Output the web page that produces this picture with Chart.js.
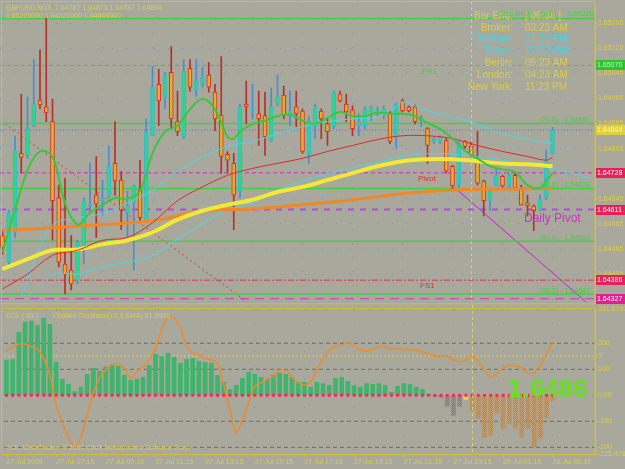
<!DOCTYPE html>
<html>
<head>
<meta charset="utf-8">
<script src="https://cdn.jsdelivr.net/npm/chart.js@4.4.1/dist/chart.umd.min.js"></script>
<style>
html, body { margin: 0; padding: 0; background: #a8a89c; }
#wrap { position: relative; width: 625px; height: 469px; overflow: hidden; }
#main { position: absolute; left: 0; top: 0; }
#sub { position: absolute; left: 0; top: 300px; }
</style>
</head>
<body>
<div id="wrap">
  <canvas id="main" width="625" height="307"></canvas>
  <canvas id="sub" width="625" height="169"></canvas>
</div>
<script>
// GBPUSD M15, 27 Jul 2009 05:15 .. 28 Jul 03:15 (bar index 0..88)
const opens = [1.64528,1.64443,1.64538,1.64790,1.64783,1.64878,1.64960,1.64938,1.64891,1.64648,
  1.64437,1.64418,1.64386,1.64490,1.64623,1.64657,1.64639,1.64654,1.64758,1.64705,
  1.64601,1.64632,1.64673,1.64575,1.64846,1.65010,1.64969,1.65048,1.64891,1.64843,
  1.65061,1.64988,1.65010,1.65039,1.64985,1.64910,1.64787,1.64758,1.64670,1.64947,
  1.64928,1.64916,1.64910,1.64831,1.64947,1.64976,1.64916,1.64938,1.64925,1.64783,
  1.64875,1.64925,1.64884,1.64875,1.64979,1.64947,1.64928,1.64878,1.64875,1.64916,
  1.64925,1.64916,1.64919,1.64843,1.64957,1.64938,1.64938,1.64894,1.64869,1.64828,
  1.64828,1.64831,1.64749,1.64689,1.64828,1.64812,1.64768,1.64702,1.64639,1.64686,
  1.64717,1.64686,1.64720,1.64680,1.64632,1.64623,1.64610,1.64648,1.64787];
const highs = [1.64544,1.64610,1.64846,1.64979,1.64969,1.65089,1.65120,1.65221,1.64963,1.64689,
  1.64711,1.64528,1.64513,1.64648,1.64758,1.64780,1.64705,1.64815,1.64891,1.64733,
  1.64670,1.64689,1.64768,1.64900,1.65067,1.65058,1.65048,1.65130,1.64988,1.65089,
  1.65089,1.65089,1.65064,1.65080,1.65010,1.65098,1.64796,1.64790,1.64947,1.65020,
  1.65010,1.64988,1.64985,1.64998,1.65039,1.65004,1.64988,1.64988,1.64932,1.64906,
  1.64947,1.64932,1.64900,1.64988,1.64988,1.64979,1.64941,1.64916,1.64938,1.64941,
  1.64938,1.64941,1.64925,1.64950,1.64963,1.64941,1.64944,1.64910,1.64872,1.64843,
  1.64846,1.64837,1.64752,1.64828,1.64831,1.64831,1.64859,1.64705,1.64673,1.64743,
  1.64720,1.64727,1.64727,1.64689,1.64657,1.64626,1.64657,1.64799,1.64873];
const lows = [1.64468,1.64434,1.64522,1.64727,1.64774,1.64875,1.64932,1.64891,1.64513,1.64428,
  1.64342,1.64355,1.64374,1.64437,1.64601,1.64522,1.64595,1.64648,1.64657,1.64547,
  1.64522,1.64418,1.64575,1.64575,1.64846,1.64878,1.64932,1.64869,1.64846,1.64837,
  1.64988,1.64972,1.65001,1.64985,1.64862,1.64727,1.64727,1.64547,1.64648,1.64884,
  1.64900,1.64815,1.64783,1.64828,1.64941,1.64900,1.64878,1.64875,1.64790,1.64758,
  1.64837,1.64837,1.64815,1.64869,1.64954,1.64891,1.64846,1.64846,1.64869,1.64894,
  1.64910,1.64900,1.64821,1.64806,1.64922,1.64922,1.64884,1.64875,1.64758,1.64821,
  1.64821,1.64727,1.64673,1.64680,1.64806,1.64780,1.64689,1.64591,1.64607,1.64686,
  1.64680,1.64680,1.64673,1.64626,1.64591,1.64544,1.64607,1.64642,1.64787];
const closes = [1.64490,1.64601,1.64799,1.64777,1.64869,1.64947,1.64944,1.64919,1.64639,1.64443,
  1.64405,1.64374,1.64506,1.64639,1.64629,1.64629,1.64648,1.64749,1.64702,1.64610,
  1.64623,1.64686,1.64585,1.64859,1.65001,1.64957,1.65039,1.64900,1.64859,1.65051,
  1.65001,1.65020,1.65032,1.65001,1.64900,1.64780,1.64768,1.64657,1.64938,1.64938,
  1.64935,1.64900,1.64843,1.64938,1.64969,1.64910,1.64925,1.64916,1.64796,1.64891,
  1.64938,1.64900,1.64859,1.64985,1.64957,1.64922,1.64869,1.64891,1.64932,1.64938,
  1.64928,1.64932,1.64828,1.64947,1.64925,1.64925,1.64891,1.64900,1.64815,1.64837,
  1.64843,1.64733,1.64686,1.64821,1.64812,1.64783,1.64695,1.64639,1.64673,1.64720,
  1.64686,1.64720,1.64680,1.64626,1.64623,1.64607,1.64642,1.64768,1.64864];

// moving averages, read at sampled bars
const greenBars = [0,2,4,6,8,10,12,14,16,18,20,22,24,26,28,30,32,34,36,37,38,40,42,44,46,48,50,52,54,56,58,60,62,64,66,68,70,72,74,76,78,80,82,84,86,87,88];
const greenMA = [1.64475,1.64610,1.64736,1.64796,1.64780,1.64632,1.64563,1.64601,1.64626,1.64648,1.64645,1.64670,1.64790,1.64859,1.64878,1.64931,1.64963,1.64931,1.64843,1.64837,1.64859,1.64884,1.64894,1.64909,1.64913,1.64894,1.64884,1.64903,1.64922,1.64909,1.64909,1.64919,1.64916,1.64916,1.64909,1.64887,1.64868,1.64837,1.64799,1.64774,1.64749,1.64739,1.64730,1.64689,1.64679,1.64702,1.64727];
const slowBars = [0,4,8,12,16,20,24,28,32,36,40,44,48,52,56,60,64,68,72,76,80,84,87,88];
const redMA = [1.64358,1.64405,1.64465,1.64481,1.64513,1.64522,1.64569,1.64639,1.64683,1.64720,1.64742,1.64758,1.64774,1.64796,1.64815,1.64834,1.64846,1.64846,1.64837,1.64815,1.64796,1.64780,1.64768,1.64777];
const yellowBars = [0,4,8,12,16,20,24,28,32,36,40,44,48,52,56,60,64,68,72,76,80,84,88];
const yellowMA = [1.64421,1.64453,1.64481,1.64484,1.64500,1.64513,1.64538,1.64579,1.64607,1.64626,1.64642,1.64667,1.64683,1.64705,1.64727,1.64749,1.64765,1.64771,1.64771,1.64765,1.64758,1.64755,1.64749];
const orangeBars = [0,8,16,24,32,40,48,56,64,72,80,88];
const orangeMA = [1.64544,1.64553,1.64563,1.64575,1.64607,1.64613,1.64626,1.64642,1.64661,1.64673,1.64676,1.64679];
const upperBandBars = [3,5,6,8,12,16,20,24,28,32,36,40,44,48,52,56,60,63,64,66,68,72,76,80,84,88];
const upperBand = [1.64333,1.64443,1.64490,1.64563,1.64585,1.64598,1.64632,1.64673,1.64733,1.64777,1.64812,1.64828,1.64853,1.64875,1.64891,1.64900,1.64906,1.64938,1.64954,1.64941,1.64925,1.64906,1.64881,1.64853,1.64834,1.64821];
const lowerBandBars = [4,8,12,16,20,24,28,32,36,40,44,48,52,56,60,64,68,72,76,80,84,88,94];
const lowerBand = [1.64333,1.64405,1.64405,1.64428,1.64443,1.64465,1.64516,1.64566,1.64610,1.64632,1.64673,1.64702,1.64724,1.64743,1.64761,1.64780,1.64790,1.64787,1.64780,1.64768,1.64755,1.64743,1.64711];

// lower panel: CCI(63) histogram and Chaikin oscillator
const cci = [135,138,242,281,285,269,296,273,127,62,42,15,31,81,104,92,108,115,112,77,
  58,62,69,115,158,150,162,146,123,138,142,131,127,123,77,50,23,38,65,88,
  81,69,62,77,85,81,69,50,50,31,50,45,38,65,69,54,38,31,45,42,
  45,38,12,35,45,42,31,23,5,-4,-8,-42,-77,-42,-15,-58,-88,-162,-154,-69,
  -127,-108,-127,-162,-127,-200,-165,-85,-20];
const chaikin = [35,52,70,70,55,41,-12,-111,-286,-385,-478,-531,-472,-344,-216,-128,-82,-47,-47,-70,
  -128,-93,-64,-23,47,152,233,222,163,64,17,6,-12,-23,-41,-169,-315,-449,-373,-274,
  -175,-157,-134,-117,-82,-87,-122,-157,-169,-152,-82,-12,35,58,64,76,58,35,29,41,
  52,52,41,41,41,35,35,23,12,0,0,0,-23,-35,-23,6,-35,-82,-122,-105,
  -70,-52,-58,-70,-99,-99,-52,12,81.5986];

const tickBars = [0,8,16,24,32,40,48,56,64,72,80,88];
const timeLabels = ['27 Jul 2009','27 Jul 07:15','27 Jul 09:15','27 Jul 11:15','27 Jul 13:15','27 Jul 15:15',
  '27 Jul 17:15','27 Jul 19:15','27 Jul 21:15','27 Jul 23:15','28 Jul 01:15','28 Jul 03:15'];
const priceTicks = [1.65205,1.65125,1.65045,1.64965,1.64885,1.64805,1.64725,1.64645,1.64565,1.64485,1.64405];
const cciTicks = [331.8797,200,100,0,-100,-200,-225.476];
const cciTickLabels = ['331.8797','200','100','0.00','-100','-200','-225.476'];
const cciLevels = [200,100,-100,-200];

// levels
const dailyHigh = 1.65220, fr1 = 1.65070, bid = 1.64864, pivot = 1.64728, dailyPivot = 1.64611, fs1 = 1.64386, lowLine = 1.64327;
const fibLevels = [1.64885,1.64678,1.64510,1.64342];
const fibNames = ['(75.4) - 1.64885','(61.8) - 1.64678','(50.0) - 1.64510','(38.2) - 1.64342'];
const sessionBar = 75;
const infoLabels = ['Bar End:','Broker:','* Sydney:','* Tokyo:','Berlin:','London:','New York:'];
const infoValues = ['[ 06:36 ]','03:23 AM','01:23 PM','12:23 PM','05:23 AM','04:23 AM','11:23 PM'];

const xMin = -0.4, xMax = 94.8;
const cciMin = -225.476, cciMax = 331.8797, chMin = -571, chMax = 274;
const FONT = '"Liberation Sans", Arial, sans-serif';
const YEL = '#ddcc48', FRAME = '#d4bf3c', GRID = 'rgba(70,120,210,0.45)';

function checker(a, b) {
  const c = document.createElement('canvas');
  c.width = 2; c.height = 2;
  const g = c.getContext('2d');
  g.fillStyle = a; g.fillRect(0, 0, 2, 2);
  g.fillStyle = b; g.fillRect(0, 0, 1, 1); g.fillRect(1, 1, 1, 1);
  return g.createPattern(c, 'repeat');
}
const bearFill = checker('#ee8a30', '#f2c040');
const negFill = checker('#ee6a30', '#c8a070');
const grayFill = checker('#7c7c78', '#989890');

function txt(ctx, s, x, y, color, size, align, weight) {
  ctx.save();
  ctx.font = (weight || 'normal') + ' ' + size + 'px ' + FONT;
  ctx.fillStyle = color;
  ctx.textAlign = align || 'left';
  ctx.textBaseline = 'middle';
  ctx.fillText(s, x, y);
  ctx.restore();
}

function hline(v, color, dash, width, axis) {
  return { type: 'line', data: [{ x: xMin, y: v }, { x: xMax, y: v }], borderColor: color,
    borderDash: dash || [], borderWidth: width || 1, pointRadius: 0, order: 4, yAxisID: axis || 'y' };
}
function maLine(bars, vals, color, width) {
  return { type: 'line', data: bars.map((b, i) => ({ x: b, y: vals[i] })), borderColor: color,
    borderWidth: width, pointRadius: 0, tension: 0.35, order: 1 };
}

function sessionLine(chart) {
  const { ctx, chartArea, scales } = chart;
  const x = Math.round(scales.x.getPixelForValue(sessionBar)) + 0.5;
  ctx.save();
  ctx.strokeStyle = '#e8d040'; ctx.setLineDash([3, 3]); ctx.lineWidth = 1;
  ctx.beginPath(); ctx.moveTo(x, chartArea.top - 4); ctx.lineTo(x, chartArea.bottom); ctx.stroke();
  ctx.restore();
}

const mainOverlay = {
  id: 'mainOverlay',
  afterDraw(chart) {
    const { ctx, chartArea, scales } = chart;
    const y = scales.y;
    sessionLine(chart);
    // frame
    ctx.save();
    ctx.strokeStyle = FRAME; ctx.lineWidth = 1;
    ctx.strokeRect(1.5, 1.5, chartArea.right - 1.5, chartArea.bottom + 0.5);
    ctx.restore();
    // header
    txt(ctx, 'GBPUSD,M15  1.64787 1.64873 1.64787 1.64864', 6, 8, YEL, 7);
    txt(ctx, '1.65220000 1.64320000 1.64644000', 6, 16, YEL, 7);
    // session info
    infoLabels.forEach((s, i) => {
      const c = (i === 2 || i === 3) ? '#44d4e4' : YEL;
      txt(ctx, s, 513, 16 + i * 11.8, c, 10, 'right');
      txt(ctx, infoValues[i], 525, 16 + i * 11.8, c, 10, 'left');
    });
    txt(ctx, 'Daily HIGH', 498, 14, '#30e030', 7);
    txt(ctx, '(100)', 540, 14, '#30e030', 7);
    txt(ctx, dailyHigh.toFixed(5), 568, 14, '#30e030', 7);
    // level labels
    txt(ctx, 'FR1', 422, y.getPixelForValue(fr1) + 6, '#40d040', 8);
    txt(ctx, 'Pivot', 418, y.getPixelForValue(pivot) + 6, '#e03030', 8);
    txt(ctx, 'FS1', 420, y.getPixelForValue(fs1) + 6, '#e03030', 8);
    txt(ctx, 'Daily Pivot', 524, y.getPixelForValue(dailyPivot) + 9, '#d030c8', 12);
    fibLevels.forEach((v, i) => txt(ctx, fibNames[i], 540, y.getPixelForValue(v) - 3, '#40d040', 7));
    // price boxes on the axis
    const boxes = [[fr1, '#30c030', '#b0ffb0'], [bid, '#e0d040', '#fff8a0'], [pivot, '#e8205a', '#ffffff'],
      [dailyPivot, '#e8205a', '#ffffff'], [fs1, '#e8205a', '#ffffff'], [lowLine, '#e02090', '#ffffff']];
    boxes.forEach(([v, bg, fg]) => {
      const py = Math.round(y.getPixelForValue(v));
      ctx.fillStyle = bg; ctx.fillRect(596, py - 5, 29, 10);
      txt(ctx, v.toFixed(5), 597, py, fg, 7);
    });
  }
};

const subOverlay = {
  id: 'subOverlay',
  afterDraw(chart) {
    const { ctx, chartArea } = chart;
    sessionLine(chart);
    ctx.save();
    ctx.strokeStyle = FRAME; ctx.lineWidth = 1;
    ctx.strokeRect(1.5, chartArea.top - 0.5, chartArea.right - 1.5, chartArea.bottom - chartArea.top + 1);
    ctx.restore();
    txt(ctx, 'CCI  ( 63 )', 6, chartArea.top + 7, YEL, 7);
    txt(ctx, 'Chaikin Oscillator(10,3,SMA) ' + chaikin[chaikin.length - 1].toFixed(4), 53, chartArea.top + 7, YEL, 7);
    txt(ctx, closes[closes.length - 1].toFixed(4), 508, chartArea.top + 81, '#66e020', 26, 'left', 'bold');
    txt(ctx, 'COL MetaTrader, \u00a9 2001-2009 MetaQuotes Software Corp.', 6, chartArea.bottom - 6, YEL, 7);
  }
};

const wickColor = (i) => closes[i] >= opens[i] ? '#4a8ed0' : '#b83028';

new Chart(document.getElementById('main'), {
  type: 'bar',
  data: {
    datasets: [
      maLine(greenBars, greenMA, '#38c838', 2),
      maLine(slowBars, redMA, '#e02828', 1),
      maLine(yellowBars, yellowMA, '#f2e838', 4),
      maLine(orangeBars, orangeMA, '#f08828', 3),
      maLine(upperBandBars, upperBand, '#48d8e8', 1),
      maLine(lowerBandBars, lowerBand, '#48d8e8', 1),
      { type: 'bar', order: 2, grouped: false, barThickness: 4, borderSkipped: false, borderWidth: 1,
        data: opens.map((o, i) => ({ x: i, y: [o, closes[i]] })),
        backgroundColor: (c) => closes[c.dataIndex] >= opens[c.dataIndex] ? '#2ada80' : bearFill,
        borderColor: (c) => closes[c.dataIndex] >= opens[c.dataIndex] ? '#40b0e0' : '#d83020' },
      { type: 'bar', order: 3, grouped: false, barThickness: 1, borderWidth: 0,
        data: lows.map((l, i) => ({ x: i, y: [l, highs[i]] })),
        backgroundColor: (c) => wickColor(c.dataIndex) },
      hline(dailyHigh, '#40d040', [], 1.5),
      hline(fr1, '#40c840', [4, 3], 1),
      hline(bid, '#5a74b0', [1, 2], 1),
      hline(pivot, '#d030c0', [4, 3], 1),
      hline(dailyPivot, '#b048e8', [6, 6], 2),
      hline(fs1, '#e03050', [6, 2, 2, 2], 1),
      hline(lowLine, '#c040c0', [9, 6], 1),
      ...fibLevels.map(v => hline(v, '#40d040', [], 1.5)),
      { type: 'line', order: 4, data: [{ x: 0.4, y: 1.64884 }, { x: 38, y: 1.64333 }, { x: 40, y: 1.64304 }],
        borderColor: '#e03838', borderDash: [2, 3], borderWidth: 1, pointRadius: 0 },
      { type: 'line', order: 4, data: [{ x: 72.4, y: 1.64680 }, { x: 92.4, y: 1.64333 }, { x: 94, y: 1.64305 }],
        borderColor: '#c020c8', borderWidth: 1, pointRadius: 0 }
    ]
  },
  options: {
    responsive: false, animation: false,
    layout: { padding: { top: 5, bottom: 2, left: 0, right: 0 } },
    plugins: { legend: { display: false }, tooltip: { enabled: false } },
    scales: {
      x: { type: 'linear', min: xMin, max: xMax, offset: false,
        afterBuildTicks: (s) => { s.ticks = tickBars.map(v => ({ value: v })); },
        afterFit: (s) => { s.height = 0; },
        ticks: { display: false },
        grid: { color: GRID, drawTicks: false, offset: false },
        border: { display: false, dash: [1, 13] } },
      y: { position: 'right', min: 1.64317, max: 1.65262, beginAtZero: false,
        afterBuildTicks: (s) => { s.ticks = priceTicks.map(v => ({ value: v })); },
        afterFit: (s) => { s.width = 30; },
        ticks: { callback: (v) => v.toFixed(5), color: YEL, font: { family: FONT, size: 7 }, padding: 1, autoSkip: false },
        grid: { color: GRID, tickLength: 2, tickColor: FRAME },
        border: { display: true, color: FRAME, dash: [1, 13] } }
    }
  },
  plugins: [mainOverlay]
});

const chaikinZero = cciMin + (cciMax - cciMin) * (0 - chMin) / (chMax - chMin);

new Chart(document.getElementById('sub'), {
  type: 'bar',
  data: {
    datasets: [
      { type: 'line', order: 0, yAxisID: 'y2', data: chaikin.map((v, i) => ({ x: i, y: v })),
        borderColor: '#f08a28', borderWidth: 1.5, pointRadius: 0, tension: 0.3 },
      { type: 'scatter', order: 1, data: cci.map((v, i) => ({ x: i, y: 0 })), pointStyle: 'rect',
        pointRadius: 2, backgroundColor: '#ff2058', borderWidth: 0 },
      { type: 'bar', order: 2, grouped: false, barThickness: 4, borderWidth: 0,
        data: cci.map((v, i) => ({ x: i, y: v })),
        backgroundColor: (c) => {
          const v = cci[c.dataIndex], i = c.dataIndex;
          if (v >= 0) return '#3eb46c';
          if (i < 74) return grayFill;
          if (i === 74) return '#e8e040';
          return negFill;
        } },
      ...cciLevels.map(v => hline(v, '#6c6c70', [4, 3], 1)),
      hline(0, '#e8d040', [2, 2], 1, 'y2')
    ]
  },
  options: {
    responsive: false, animation: false,
    layout: { padding: { top: 9, bottom: 0, left: 0, right: 0 } },
    plugins: { legend: { display: false }, tooltip: { enabled: false } },
    scales: {
      x: { type: 'linear', min: xMin, max: xMax, offset: false,
        afterBuildTicks: (s) => { s.ticks = tickBars.map(v => ({ value: v })); },
        afterFit: (s) => { s.height = 15; },
        ticks: { callback: (v, i) => timeLabels[i], align: 'start', maxRotation: 0, autoSkip: false,
          color: YEL, font: { family: FONT, size: 7 }, padding: 1 },
        grid: { color: GRID, tickLength: 3, tickColor: FRAME, offset: false },
        border: { display: true, color: FRAME, dash: [1, 13] } },
      y: { position: 'right', min: cciMin, max: cciMax, beginAtZero: false,
        afterBuildTicks: (s) => {
          s.ticks = cciTicks.map(v => ({ value: v }));
          s.ticks.splice(2, 0, { value: chaikinZero });
        },
        afterFit: (s) => { s.width = 30; },
        ticks: { autoSkip: false, color: YEL, font: { family: FONT, size: 7 }, padding: 1,
          callback: (v) => Math.abs(v - chaikinZero) < 1e-6 ? '0' : cciTickLabels[cciTicks.indexOf(v)] },
        grid: { color: GRID, tickLength: 2, tickColor: FRAME },
        border: { display: true, color: FRAME, dash: [1, 13] } },
      y2: { display: false, min: chMin, max: chMax, beginAtZero: false }
    }
  },
  plugins: [subOverlay]
});
</script>
</body>
</html>
